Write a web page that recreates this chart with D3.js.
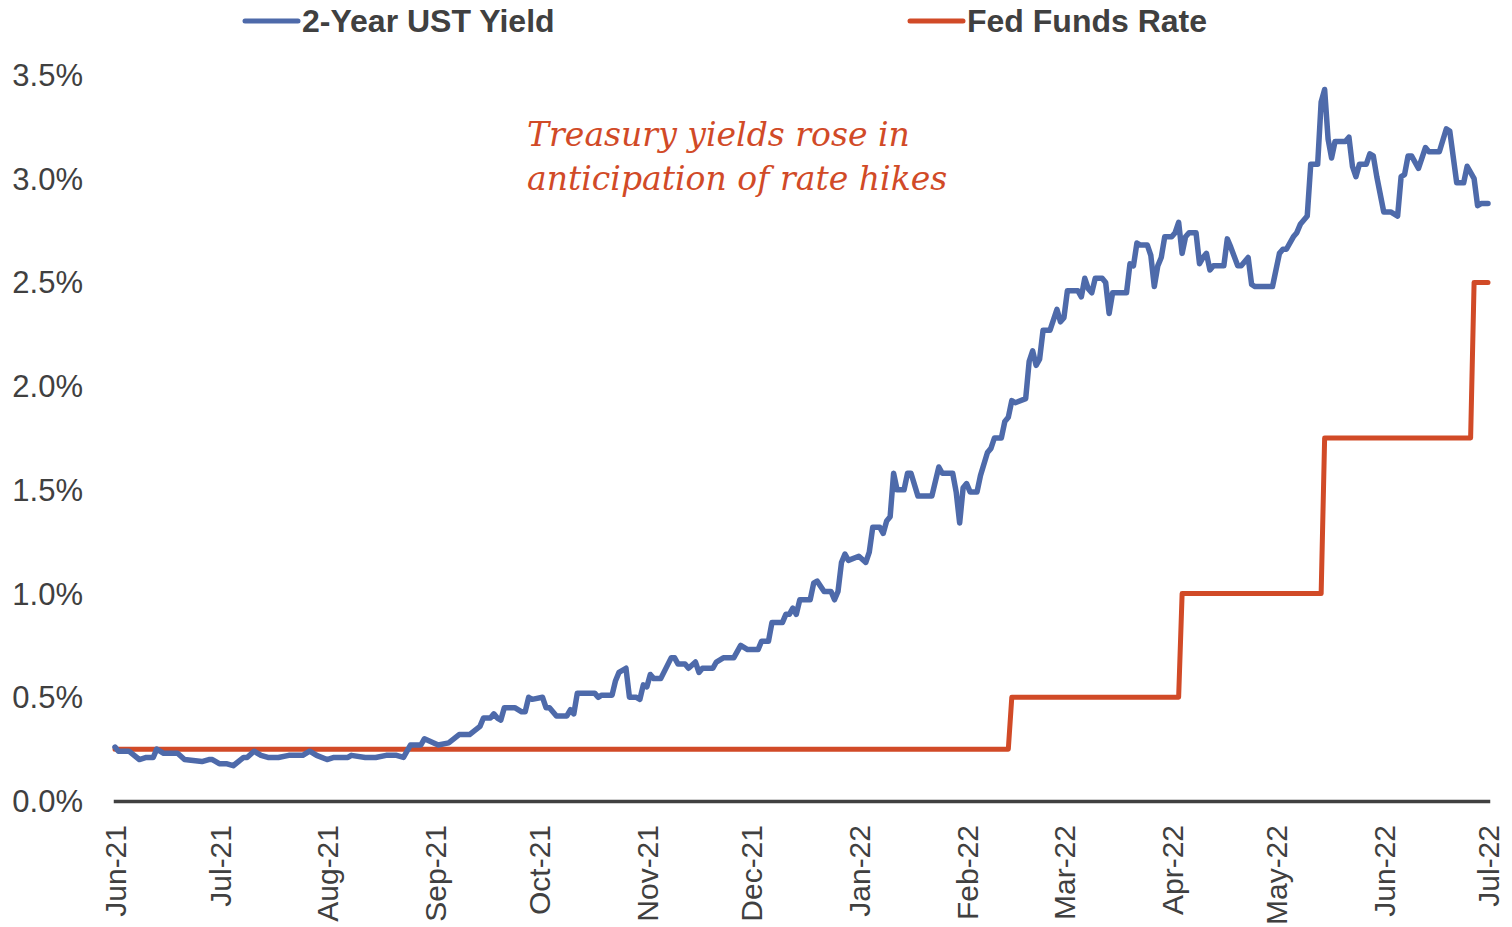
<!DOCTYPE html>
<html>
<head>
<meta charset="utf-8">
<script src="https://cdn.jsdelivr.net/npm/d3@7"></script>
<style>
  body { margin: 0; background: #ffffff; }
  svg { display: block; }
</style>
</head>
<body>
<div id="chartArea"></div>
<script>
// data: day offsets from 1 Jun 2021, values in percent
var startDate = new Date(2021, 5, 1);
var endDate = new Date(2022, 6, 1);

var tickLabels = ["Jun-21", "Jul-21", "Aug-21", "Sep-21", "Oct-21", "Nov-21", "Dec-21",
  "Jan-22", "Feb-22", "Mar-22", "Apr-22", "May-22", "Jun-22", "Jul-22"];

var yTicks = [0, 0.5, 1.0, 1.5, 2.0, 2.5, 3.0, 3.5];

var yieldDays = [0, 1, 4, 7, 9, 11, 12, 14, 18, 20, 25, 27, 28, 30, 32, 34, 37, 38, 40, 42, 44, 47, 50, 54, 56, 58, 61, 63, 67, 68,
  72, 75, 78, 81, 83, 85, 88, 89, 93, 96, 99, 102, 105, 106, 108, 109, 110, 111, 112, 115, 117, 118, 119, 120, 123, 124, 125, 127, 130, 131,
  132, 133, 138, 139, 140, 143, 144, 145, 147, 148, 150, 151, 152, 153, 154, 155, 157, 160, 161, 162, 164, 165, 167, 168, 169, 172, 173, 175, 178, 180,
  182, 185, 186, 188, 189, 192, 193, 194, 195, 196, 197, 200, 201, 202, 204, 206, 207, 208, 209, 210, 211, 214, 216, 217, 218, 220, 221, 222, 223, 224,
  225, 227, 228, 229, 231, 235, 237, 238, 241, 242, 243, 244, 245, 246, 248, 249, 251, 252, 253, 255, 256, 257, 258, 259, 262, 263, 264, 265, 266, 267,
  269, 271, 272, 273, 274, 277, 278, 279, 280, 281, 282, 284, 285, 286, 287, 291, 292, 293, 294, 295, 297, 298, 299, 300, 301, 302, 304, 305, 306, 307,
  308, 309, 311, 312, 313, 314, 315, 316, 319, 320, 321, 323, 324, 326, 327, 328, 333, 335, 336, 337, 339, 340, 341, 343, 344, 346, 347, 348, 349, 350,
  351, 354, 355, 356, 357, 358, 360, 361, 362, 363, 365, 367, 369, 370, 371, 372, 373, 375, 377, 378, 381, 383, 384, 386, 388, 389, 391, 392, 393, 395];

var yieldValues = [0.26, 0.24, 0.24, 0.20, 0.21, 0.21, 0.25, 0.23, 0.23, 0.20, 0.19, 0.20, 0.20, 0.18, 0.18, 0.17, 0.21, 0.21, 0.24, 0.22, 0.21, 0.21, 0.22, 0.22, 0.24, 0.22, 0.20, 0.21, 0.21, 0.22,
  0.21, 0.21, 0.22, 0.22, 0.21, 0.27, 0.27, 0.30, 0.27, 0.28, 0.32, 0.32, 0.36, 0.40, 0.40, 0.42, 0.40, 0.39, 0.45, 0.45, 0.43, 0.43, 0.50, 0.49, 0.50, 0.45, 0.45, 0.41, 0.41, 0.44,
  0.42, 0.52, 0.52, 0.50, 0.51, 0.51, 0.58, 0.62, 0.64, 0.50, 0.50, 0.49, 0.56, 0.55, 0.61, 0.59, 0.59, 0.69, 0.69, 0.66, 0.66, 0.64, 0.67, 0.62, 0.64, 0.64, 0.67, 0.69, 0.69, 0.75,
  0.73, 0.73, 0.77, 0.77, 0.86, 0.86, 0.90, 0.90, 0.93, 0.90, 0.97, 0.97, 1.05, 1.06, 1.01, 1.01, 0.97, 1.01, 1.15, 1.19, 1.16, 1.18, 1.15, 1.20, 1.32, 1.32, 1.29, 1.35, 1.37, 1.58,
  1.50, 1.50, 1.58, 1.58, 1.47, 1.47, 1.61, 1.58, 1.58, 1.49, 1.34, 1.51, 1.53, 1.49, 1.49, 1.57, 1.68, 1.70, 1.75, 1.75, 1.83, 1.85, 1.93, 1.92, 1.94, 2.12, 2.17, 2.10, 2.13, 2.27,
  2.27, 2.37, 2.31, 2.33, 2.46, 2.46, 2.43, 2.52, 2.47, 2.45, 2.52, 2.52, 2.50, 2.35, 2.45, 2.45, 2.59, 2.58, 2.69, 2.68, 2.68, 2.63, 2.48, 2.58, 2.62, 2.72, 2.72, 2.74, 2.79, 2.64,
  2.72, 2.74, 2.74, 2.59, 2.62, 2.64, 2.56, 2.58, 2.58, 2.71, 2.67, 2.58, 2.58, 2.62, 2.49, 2.48, 2.48, 2.64, 2.66, 2.66, 2.72, 2.74, 2.78, 2.82, 3.07, 3.07, 3.37, 3.43, 3.19, 3.10,
  3.18, 3.18, 3.20, 3.06, 3.01, 3.07, 3.07, 3.12, 3.11, 3.01, 2.84, 2.84, 2.82, 3.01, 3.02, 3.11, 3.11, 3.05, 3.15, 3.13, 3.13, 3.24, 3.23, 2.98, 2.98, 3.06, 3.00, 2.87, 2.88, 2.88];

var fedDays = [0, 257, 258, 306, 307, 347, 348, 390, 391, 395];
var fedValues = [0.25, 0.25, 0.5, 0.5, 1.0, 1.0, 1.75, 1.75, 2.5, 2.5];

var seriesNames = ["2-Year UST Yield", "Fed Funds Rate"];
var seriesColors = ["#4e6aaa", "#d14a27"];
var noteLines = ["Treasury yields rose in", "anticipation of rate hikes"];

var width = 1512, height = 927;
var margin = { top: 75, right: 24, bottom: 126, left: 115 };

function toPoints(days, values) {
  return days.map(function (d, i) {
    return { date: d3.timeDay.offset(startDate, d), value: values[i] };
  });
}

var yieldData = toPoints(yieldDays, yieldValues);
var fedData = toPoints(fedDays, fedValues);

var x = d3.scaleTime()
  .domain([startDate, endDate])
  .range([margin.left, width - margin.right]);

var y = d3.scaleLinear()
  .domain([0, 3.5])
  .range([height - margin.bottom, margin.top]);

var svg = d3.select("#chartArea").append("svg")
  .attr("width", width)
  .attr("height", height)
  .style("font-family", "Arial, 'Liberation Sans', sans-serif");

// y axis labels only
var yAxis = d3.axisLeft(y)
  .tickValues(yTicks)
  .tickSize(0)
  .tickPadding(0)
  .tickFormat(function (d) { return d3.format(".1f")(d) + "%"; });

var gy = svg.append("g")
  .attr("transform", "translate(83,0)")
  .call(yAxis);
gy.select(".domain").remove();
gy.selectAll("text")
  .attr("dy", "0.34em")
  .style("font-size", "31px")
  .style("font-family", "Arial, 'Liberation Sans', sans-serif")
  .attr("fill", "#404040");

// x axis with month labels
var monthTicks = d3.timeMonth.range(startDate, d3.timeDay.offset(endDate, 1));

var xAxis = d3.axisBottom(x)
  .tickValues(monthTicks)
  .tickSize(0)
  .tickFormat(function (d, i) { return tickLabels[i]; });

var gx = svg.append("g")
  .attr("transform", "translate(0," + y(0) + ")")
  .call(xAxis);
gx.select(".domain")
  .attr("stroke", "#404040")
  .attr("stroke-width", 3.5)
  .attr("stroke-linecap", "square");
gx.selectAll("text")
  .attr("transform", "rotate(-90)")
  .attr("x", -24)
  .attr("y", 0)
  .attr("dy", "0.36em")
  .style("text-anchor", "end")
  .style("font-size", "30px")
  .style("font-family", "Arial, 'Liberation Sans', sans-serif")
  .attr("fill", "#404040");

var line = d3.line()
  .x(function (d) { return x(d.date); })
  .y(function (d) { return y(d.value); });

svg.append("path")
  .datum(fedData)
  .attr("d", line)
  .attr("fill", "none")
  .attr("stroke", seriesColors[1])
  .attr("stroke-width", 5)
  .attr("stroke-linejoin", "round")
  .attr("stroke-linecap", "round");

svg.append("path")
  .datum(yieldData)
  .attr("d", line)
  .attr("fill", "none")
  .attr("stroke", seriesColors[0])
  .attr("stroke-width", 5.5)
  .attr("stroke-linejoin", "round")
  .attr("stroke-linecap", "round");

// legend
var legendX = [245, 910];
var legend = svg.selectAll(".legendItem")
  .data(seriesNames)
  .enter().append("g")
  .attr("class", "legendItem")
  .attr("transform", function (d, i) { return "translate(" + legendX[i] + ",21)"; });

legend.append("line")
  .attr("x1", 0)
  .attr("x2", 53)
  .attr("stroke", function (d, i) { return seriesColors[i]; })
  .attr("stroke-width", 5)
  .attr("stroke-linecap", "round");

legend.append("text")
  .attr("x", 57)
  .attr("y", 11)
  .style("font-size", "32px")
  .style("font-weight", "bold")
  .attr("fill", "#404040")
  .text(function (d) { return d; });

// annotation
var note = svg.append("g")
  .style("font-family", "Georgia, 'DejaVu Serif', serif")
  .style("font-style", "italic")
  .attr("fill", "#d14a27");

var noteText = note.selectAll("text")
  .data(noteLines)
  .enter().append("text")
  .attr("x", 527)
  .attr("y", function (d, i) { return 146 + i * 44; })
  .style("font-size", "34px")
  .text(function (d) { return d; });

// fit the first line to the width seen in the reference
var firstLen = noteText.node().getComputedTextLength();
var fitSize = 34 * 383 / firstLen;
noteText.style("font-size", fitSize + "px");
</script>
</body>
</html>
